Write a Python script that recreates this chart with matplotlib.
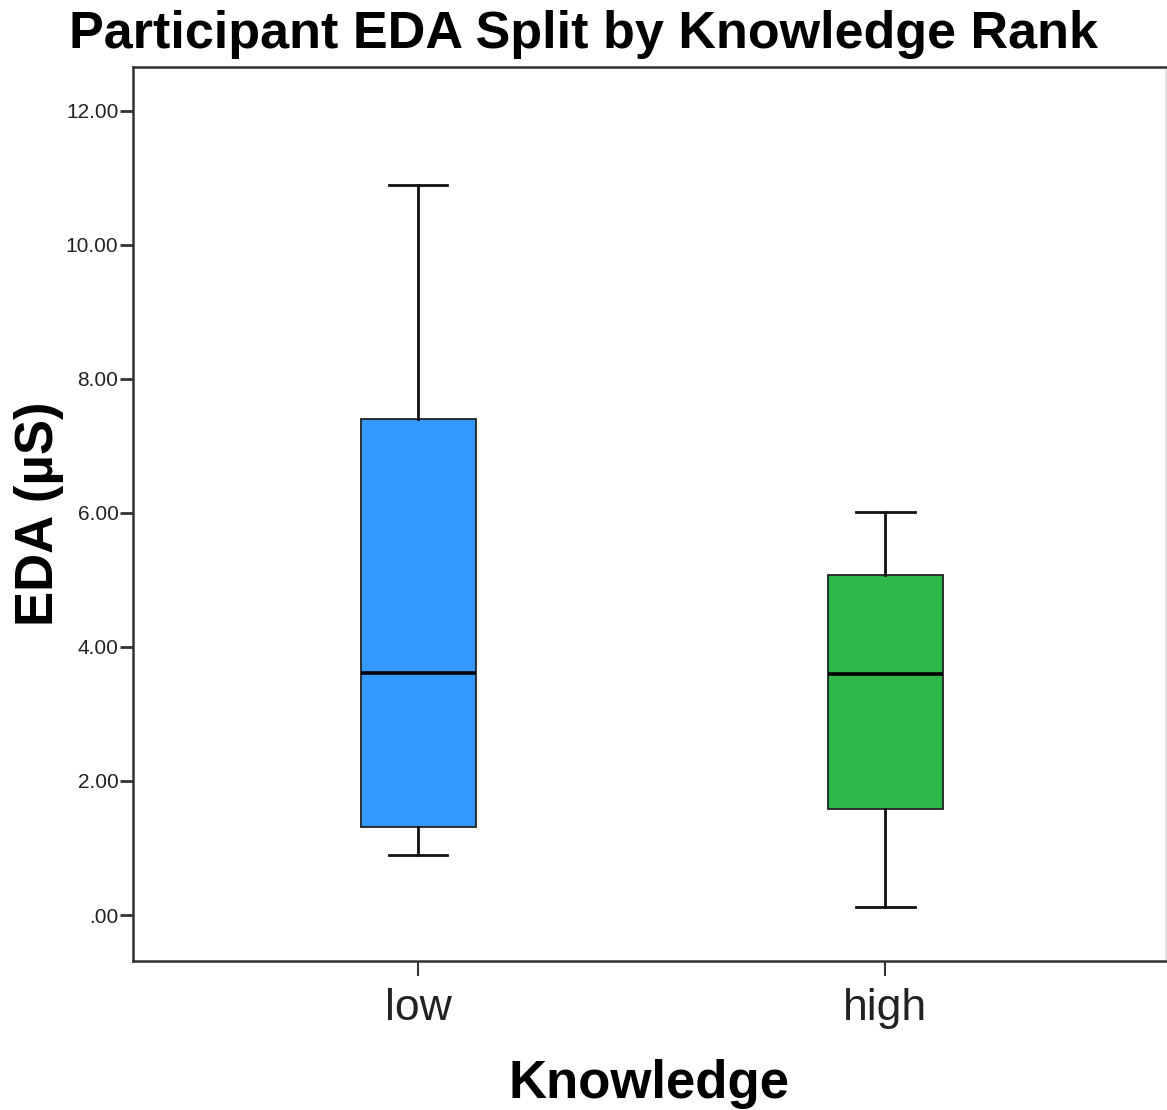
import matplotlib
matplotlib.use("Agg")
import matplotlib.pyplot as plt

plt.rcParams['font.family'] = ['Liberation Sans', 'DejaVu Sans']

# box summaries for each knowledge group
groups = ['low', 'high']
whislo = [0.90, 0.12]
q1 = [1.31, 1.58]
med = [3.61, 3.60]
q3 = [7.40, 5.07]
whishi = [10.90, 6.01]
box_colors = ['#3399ff', '#2db84a']

yticks = [0, 2, 4, 6, 8, 10, 12]
ytick_labels = ['.00', '2.00', '4.00', '6.00', '8.00', '10.00', '12.00']

stats = []
for i in range(len(groups)):
    stats.append(dict(label=groups[i], whislo=whislo[i], q1=q1[i], med=med[i],
                      q3=q3[i], whishi=whishi[i], fliers=[]))

fig = plt.figure(figsize=(11.67, 11.10), dpi=100)
ax = fig.add_axes([0.114, 0.134, 0.885, 0.806])

bp = ax.bxp(stats, positions=[1, 2], widths=0.246, patch_artist=True,
            showfliers=False,
            boxprops=dict(linewidth=1.3, edgecolor='#222222'),
            medianprops=dict(color='black', linewidth=2.6),
            whiskerprops=dict(color='#111111', linewidth=2.0),
            capprops=dict(color='#111111', linewidth=2.0),
            capwidths=0.125)
for patch, c in zip(bp['boxes'], box_colors):
    patch.set_facecolor(c)

ax.set_xlim(0.39, 2.6)
ax.set_ylim(-0.69, 12.66)
ax.set_yticks(yticks)
ax.set_yticklabels(ytick_labels, fontsize=15, color='#222222')
ax.set_xticks([1, 2])
ax.set_xticklabels(groups, fontsize=32, color='#222222')
ax.tick_params(axis='y', length=9.5, width=2, color='#333333', pad=1)
ax.tick_params(axis='x', length=11, width=1.5, color='#333333', pad=8)

for s in ax.spines.values():
    s.set_linewidth(1.8)
    s.set_color('#333333')
ax.spines['right'].set_color('#dddddd')

fig.text(0.5, 0.9568, 'Participant EDA Split by Knowledge Rank', fontsize=37.5,
         fontweight='bold', ha='center', va='baseline')

ax.set_xlabel('Knowledge', fontsize=38, fontweight='bold')
ax.xaxis.set_label_coords(0.5, -0.153)
ax.xaxis.label.set_verticalalignment('baseline')
ax.set_ylabel('EDA (µS)', fontsize=38, fontweight='bold')
ax.yaxis.set_label_coords(-0.0774, 0.5)
ax.yaxis.label.set_verticalalignment('baseline')

fig.savefig('out.png', dpi=100)
